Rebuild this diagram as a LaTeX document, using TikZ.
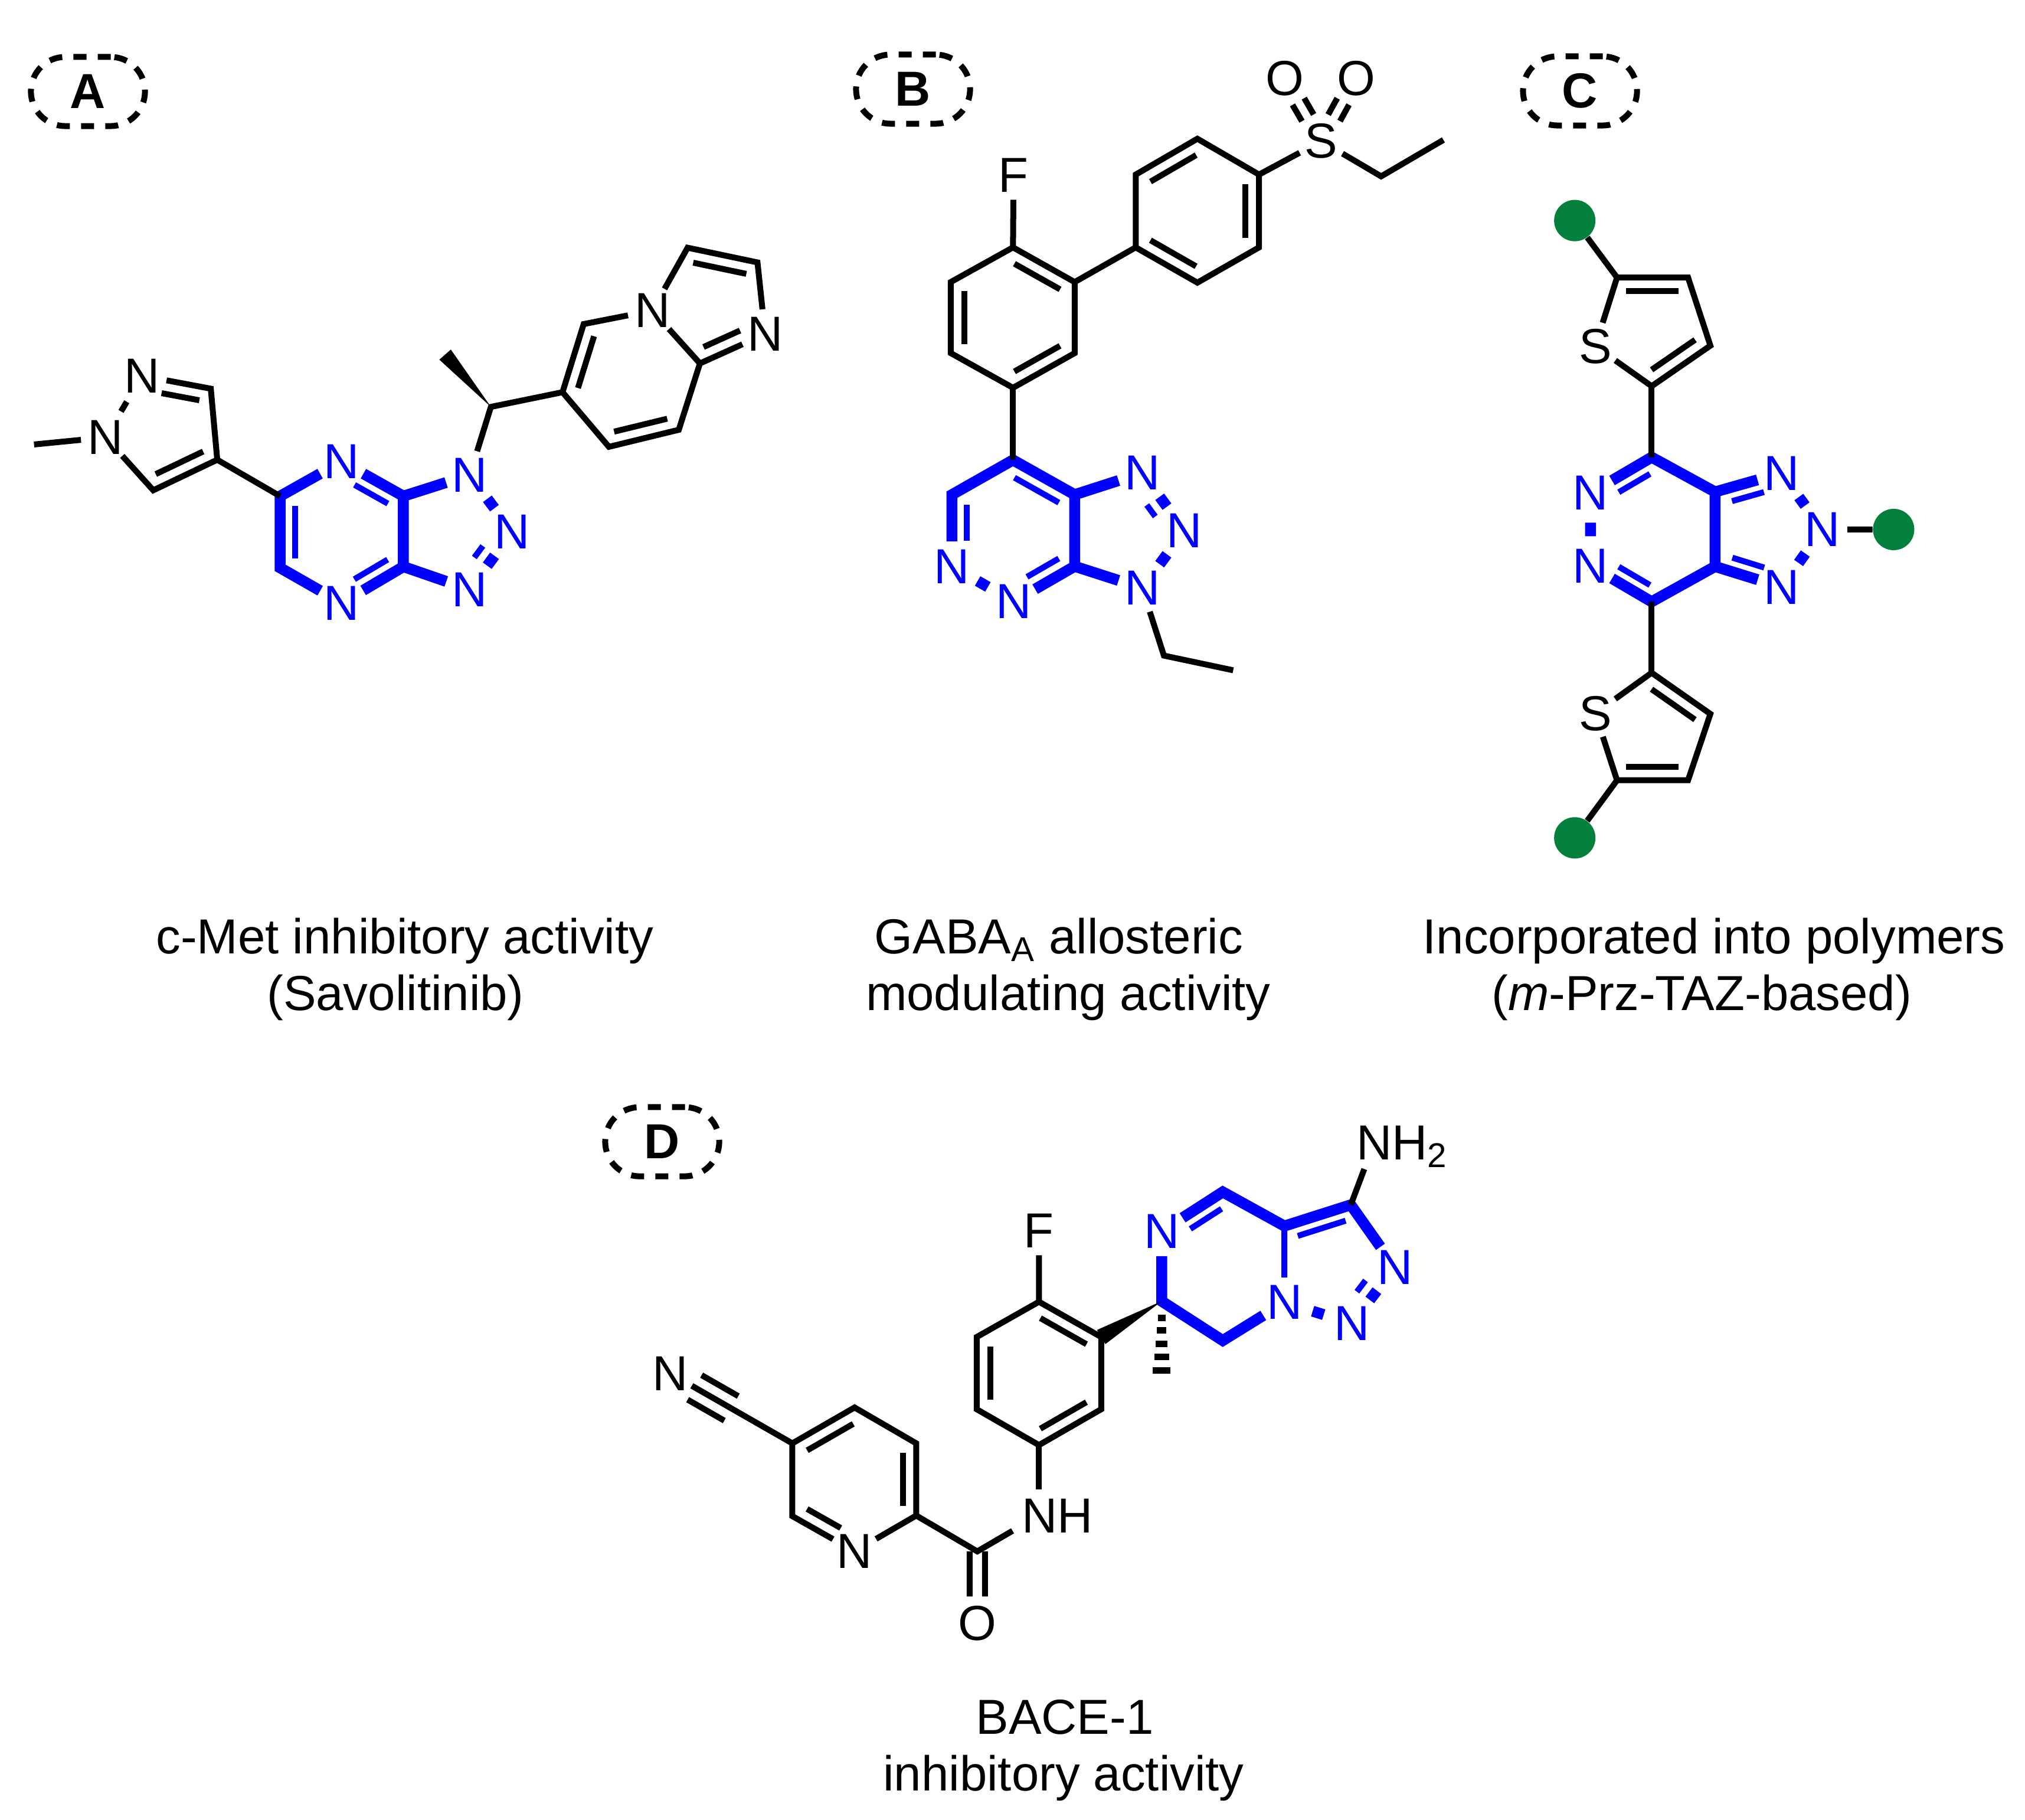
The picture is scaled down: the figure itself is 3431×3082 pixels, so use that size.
\documentclass[tikz,border=0pt]{standalone}
\usepackage{fontspec}
\setmainfont{Liberation Sans}
\usetikzlibrary{calc,shapes.geometric}
\definecolor{hetblue}{RGB}{0,0,255}
\definecolor{dotgreen}{RGB}{2,128,60}
\newcommand{\fs}{\fontsize{23.7}{28}\selectfont}
% inner bond parallel to a-b : a,b,offset,frac a,frac b,style
\newcommand{\inb}[6]{\draw[#6] ($(#1)!#4!(#2)!#3!90:(#2)$) -- ($(#2)!#5!(#1)!#3!-90:(#1)$);}
% wedge from a (narrow) to b (wide)
\newcommand{\wdg}[3]{\fill[black] (#1) -- ($(#2)!#3!90:(#1)$) -- ($(#2)!#3!-90:(#1)$) -- cycle;}
\tikzset{
  atm/.style={circle,inner sep=0pt,minimum size=0.82cm,font=\fs,text=black},
  batm/.style={atm,text=hetblue},
  txt/.style={inner sep=0pt,font=\fs,text=black},
  captxt/.style={txt,anchor=base},
  bk/.style={draw=black,line width=0.1cm,line join=miter,line cap=butt},
  bt/.style={draw=hetblue,line width=0.185cm,line join=miter,line cap=butt},
  bi/.style={draw=hetblue,line width=0.1cm,line cap=butt},
  bstub/.style={bt,shorten >=0.08cm,shorten <=0.08cm},
  kstub/.style={bk,shorten >=0.09cm,shorten <=0.09cm},
  tag/.style={draw=black,dash pattern=on 0.22cm off 0.19cm,line width=0.1cm,rounded corners=0.58cm,minimum width=1.93cm,minimum height=1.17cm,inner sep=0pt,font=\fs\bfseries,text=black},
  dot/.style={circle,fill=dotgreen,inner sep=0pt,minimum size=0.7cm},
}
\begin{document}
\begin{tikzpicture}[x=0.01cm,y=-0.01cm]
\useasboundingbox (0,0) rectangle (3431,3082);
\fill[white] (0,0) rectangle (3431,3082);
% tags
\node[tag] (tA) at (149,155) {A};
\node[tag] (tB) at (1547,151) {B};
\node[tag] (tC) at (2677,154) {C};
\node[tag] (tD) at (1122,1934) {D};
% captions
\node[captxt] (c1a) at (686,1615) {c-Met inhibitory activity};
\node[captxt] (c1b) at (670,1711) {(Savolitinib)};
\node[captxt] (c2a) at (1794,1615) {GABA\textsubscript{A} allosteric};
\node[captxt] (c2b) at (1810,1711) {modulating activity};
\node[captxt] (c3a) at (2904,1615) {Incorporated into polymers};
\node[captxt] (c3b) at (2883,1711) {(\textit{m}-Prz-TAZ-based)};
\node[captxt] (c4a) at (1804,2937) {BACE-1};
\node[captxt] (c4b) at (1802,3033) {inhibitory activity};

%%%%% Molecule A
\begin{scope}[scale around={0.9949:(0,350)}]
\coordinate (aMe) at (58,755);
\node[atm] (aN1) at (180,743) {N};
\node[atm] (aN2) at (242,638) {N};
\coordinate (aC3) at (359,660);
\coordinate (aC4) at (370,781);
\coordinate (aC5) at (261,833);
\coordinate (aC1) at (477,843);
\node[batm] (aN4) at (582,784) {N};
\coordinate (aC2) at (687,843);
\coordinate (aC6) at (687,963);
\node[batm] (aN5) at (582,1025) {N};
\coordinate (aC7) at (477,965);
\node[batm] (aNt) at (800,807) {N};
\node[batm] (aNr) at (872,904) {N};
\node[batm] (aNb) at (800,1002) {N};
\coordinate (aCh) at (836,691);
\coordinate (aWe) at (758,602);
\coordinate (aAr) at (958,666);
\coordinate (aB) at (994,550);
\node[atm] (aN6) at (1111,527) {N};
\coordinate (aF) at (1171,420);
\coordinate (aG) at (1290,445);
\node[atm] (aN7) at (1303,567) {N};
\coordinate (aJ) at (1192,617);
\coordinate (aD) at (1156,730);
\coordinate (aE) at (1037,759);
\draw[bt] (aN5) -- (aC7) -- (aC1) -- (aN4);
\draw[bt] (aN4) -- (aC2) -- (aC6) -- (aN5);
\draw[bt] (aC2) -- (aNt);
\draw[bt] (aC6) -- (aNb);
\draw[bstub] (aNt) -- (aNr);
\draw[bstub] (aNr) -- (aNb);
\inb{aNr}{aNb}{-0.26cm}{.40}{.40}{bi}
\inb{aC1}{aC7}{0.26cm}{.14}{.13}{bi}
\inb{aN4}{aC2}{-0.24cm}{.32}{.14}{bi}
\inb{aC6}{aN5}{-0.24cm}{.14}{.32}{bi}
\draw[bk] (aMe) -- (aN1);
\draw[kstub] (aN1) -- (aN2);
\draw[bk] (aN2) -- (aC3) -- (aC4) -- (aC5) -- (aN1);
\inb{aN2}{aC3}{-0.23cm}{.32}{.13}{bk}
\inb{aC4}{aC5}{-0.23cm}{.13}{.13}{bk}
\draw[bk] (aC4) -- (aC1);
\draw[bk] (aNt) -- (aCh) -- (aAr) -- (aB) -- (aN6) -- (aF) -- (aG) -- (aN7) -- (aJ) -- (aD) -- (aE) -- (aAr);
\draw[bk] (aN6) -- (aJ);
\wdg{aCh}{aWe}{0.13cm}
\inb{aAr}{aB}{-0.23cm}{.12}{.12}{bk}
\inb{aD}{aE}{-0.23cm}{.12}{.12}{bk}
\inb{aF}{aG}{-0.23cm}{.12}{.12}{bk}
\inb{aN7}{aJ}{-0.23cm}{.30}{.14}{bk}
\end{scope}

%%%%% Molecule B
\begin{scope}[scale around={0.9949:(1400,50)}]
\node[atm] (bF) at (1719,298) {F};
\coordinate (b1) at (1718,421);
\coordinate (b2) at (1823,480);
\coordinate (b3) at (1823,601);
\coordinate (b4) at (1718,660);
\coordinate (b5) at (1612,601);
\coordinate (b6) at (1612,480);
\coordinate (c1) at (1927,421);
\coordinate (c2) at (1927,297);
\coordinate (c3) at (2032,236);
\coordinate (c4) at (2137,297);
\coordinate (c5) at (2137,421);
\coordinate (c6) at (2032,481);
\node[atm] (bS) at (2243,240) {S};
\node[atm] (bO1) at (2181,133) {O};
\node[atm] (bO2) at (2302,133) {O};
\coordinate (bE1) at (2345,300);
\coordinate (bE2) at (2451,238);
\coordinate (ca) at (1718,783);
\coordinate (cb) at (1823,842);
\coordinate (cc) at (1823,964);
\node[batm] (bNa) at (1719,1024) {N};
\node[batm] (bNb) at (1614,964) {N};
\coordinate (cd) at (1614,842);
\node[batm] (bNt) at (1938,805) {N};
\node[batm] (bNr) at (2010,903) {N};
\node[batm] (bNu) at (1938,1001) {N};
\coordinate (bE3) at (1975,1116);
\coordinate (bE4) at (2093,1141);
\draw[bt] (bNb) -- (cd) -- (ca) -- (cb) -- (cc) -- (bNa);
\draw[bstub] (bNa) -- (bNb);
\draw[bt] (cb) -- (bNt);
\draw[bt] (cc) -- (bNu);
\draw[bstub] (bNt) -- (bNr);
\draw[bstub] (bNr) -- (bNu);
\inb{bNt}{bNr}{-0.26cm}{.40}{.40}{bi}
\inb{ca}{cb}{-0.25cm}{.14}{.14}{bi}
\inb{cc}{bNa}{-0.25cm}{.14}{.34}{bi}
\inb{bNb}{cd}{-0.25cm}{.36}{.14}{bi}
\draw[bk] (bF) -- (b1);
\draw[bk] (b1) -- (b2) -- (b3) -- (b4) -- (b5) -- (b6) -- cycle;
\draw[bk] (c1) -- (c2) -- (c3) -- (c4) -- (c5) -- (c6) -- cycle;
\inb{b1}{b2}{-0.23cm}{.13}{.13}{bk}
\inb{b3}{b4}{-0.23cm}{.13}{.13}{bk}
\inb{b5}{b6}{-0.23cm}{.13}{.13}{bk}
\inb{c2}{c3}{-0.23cm}{.13}{.13}{bk}
\inb{c4}{c5}{-0.23cm}{.13}{.13}{bk}
\inb{c6}{c1}{-0.23cm}{.13}{.13}{bk}
\draw[bk] (b2) -- (c1);
\draw[bk] (b4) -- (ca);
\draw[bk] (c4) -- (bS) -- (bE1) -- (bE2);
\inb{bS}{bO1}{0.115cm}{.37}{.37}{bk}
\inb{bS}{bO1}{-0.115cm}{.37}{.37}{bk}
\inb{bS}{bO2}{0.115cm}{.37}{.37}{bk}
\inb{bS}{bO2}{-0.115cm}{.37}{.37}{bk}
\draw[bk] (bNu) -- (bE3) -- (bE4);
\end{scope}

%%%%% Molecule C
\begin{scope}[scale around={0.9949:(2500,300)}]
\node[dot] (g1) at (2669,374) {};
\node[dot] (g2) at (3212,900) {};
\node[dot] (g3) at (2669,1425) {};
\coordinate (t5) at (2741,471);
\coordinate (t4) at (2862,471);
\coordinate (t3) at (2900,587);
\coordinate (t2) at (2800,656);
\node[atm] (tS) at (2704,588) {S};
\node[batm] (cNa) at (2696,838) {N};
\node[batm] (cNb) at (2696,962) {N};
\coordinate (k1) at (2800,777);
\coordinate (k2) at (2908,836);
\coordinate (k3) at (2908,963);
\coordinate (k4) at (2800,1023);
\node[batm] (cNt) at (3021,804) {N};
\node[batm] (cNm) at (3091,900) {N};
\node[batm] (cNu) at (3021,998) {N};
\coordinate (u2) at (2800,1144);
\coordinate (u3) at (2900,1214);
\coordinate (u4) at (2862,1327);
\coordinate (u5) at (2741,1327);
\node[atm] (uS) at (2704,1213) {S};
\draw[bt] (cNa) -- (k1) -- (k2) -- (k3) -- (k4) -- (cNb);
\draw[bstub] (cNa) -- (cNb);
\draw[bt] (k2) -- (cNt);
\draw[bt] (k3) -- (cNu);
\draw[bstub] (cNt) -- (cNm);
\draw[bstub] (cNm) -- (cNu);
\inb{cNa}{k1}{-0.23cm}{.35}{.14}{bi}
\inb{k4}{cNb}{-0.23cm}{.14}{.35}{bi}
\inb{k2}{cNt}{-0.23cm}{.20}{.32}{bi}
\inb{k3}{cNu}{0.23cm}{.20}{.32}{bi}
\draw[bk] (g1) -- (t5) -- (t4) -- (t3) -- (t2) -- (tS) -- (t5);
\inb{t5}{t4}{-0.23cm}{.13}{.13}{bk}
\inb{t3}{t2}{-0.23cm}{.13}{.13}{bk}
\draw[bk] (t2) -- (k1);
\draw[bk] (k4) -- (u2);
\draw[bk] (g3) -- (u5) -- (u4) -- (u3) -- (u2) -- (uS) -- (u5);
\inb{u2}{u3}{-0.23cm}{.13}{.13}{bk}
\inb{u4}{u5}{-0.23cm}{.13}{.13}{bk}
\draw[bk] (cNm) -- (g2);
\end{scope}

%%%%% Molecule D
\begin{scope}[scale around={0.9949:(1050,1850)}]
\coordinate (dCam) at (2295,2042);
\coordinate (d2) at (2182,2078);
\coordinate (d3) at (2077,2020);
\node[batm] (dN1) at (1973,2087) {N};
\coordinate (dC) at (1973,2206);
\coordinate (d6) at (2077,2273);
\node[batm] (dN2) at (2182,2208) {N};
\node[batm] (dN3) at (2297,2244) {N};
\node[batm] (dN4) at (2370,2148) {N};
\node[atm] (dF) at (1764,2086) {F};
\node[txt,anchor=base west] (dNH2) at (2304,1965) {NH\textsubscript{2}};
\coordinate (dNH2e) at (2318,1981);
\coordinate (g21) at (1764,2207);
\coordinate (g22) at (1870,2267);
\coordinate (g23) at (1870,2390);
\coordinate (g24) at (1764,2451);
\coordinate (g25) at (1658,2390);
\coordinate (g26) at (1658,2267);
\node[txt,anchor=base west] (dNH) at (1734,2600) {NH};
\coordinate (dNHa) at (1764,2526);
\coordinate (dNHb) at (1719,2597);
\coordinate (dCO) at (1659,2632);
\node[atm] (dO) at (1659,2754) {O};
\coordinate (p1) at (1555,2571);
\coordinate (p2) at (1555,2448);
\coordinate (p3) at (1450,2387);
\coordinate (p4) at (1344,2448);
\coordinate (p5) at (1344,2572);
\node[atm] (pN) at (1450,2632) {N};
\node[atm] (dNc) at (1136,2329) {N};
\coordinate (dMe) at (1973,2328);
\draw[bt] (dN1) -- (d3) -- (d2) -- (dCam) -- (dN4);
\draw[bt] (dN1) -- (dC) -- (d6) -- (dN2);
\draw[bi] (d2) -- (dN2);
\draw[bstub] (dN2) -- (dN3);
\draw[bstub] (dN3) -- (dN4);
\inb{dN3}{dN4}{0.26cm}{.40}{.40}{bi}
\inb{dN1}{d3}{-0.23cm}{.35}{.14}{bi}
\inb{d2}{dCam}{-0.23cm}{.14}{.14}{bi}
\draw[bk] (dCam) -- (dNH2e);
\draw[bk] (dF) -- (g21);
\draw[bk] (g21) -- (g22) -- (g23) -- (g24) -- (g25) -- (g26) -- cycle;
\inb{g21}{g22}{-0.23cm}{.13}{.13}{bk}
\inb{g23}{g24}{-0.23cm}{.13}{.13}{bk}
\inb{g25}{g26}{-0.23cm}{.13}{.13}{bk}
\wdg{dC}{g22}{0.14cm}
\foreach \t/\w in {.23/.065,.41/.08,.60/.10,.78/.125,.97/.15}{
  \draw[draw=black,line width=0.11cm] ($(dC)!\t!(dMe)!\w cm!90:(dMe)$) -- ($(dC)!\t!(dMe)!\w cm!-90:(dMe)$);
}
\draw[bk] (g24) -- (dNHa);
\draw[bk] (dNHb) -- (dCO) -- (p1);
\inb{dCO}{dO}{0.13cm}{0}{.37}{bk}
\inb{dCO}{dO}{-0.13cm}{0}{.37}{bk}
\draw[bk] (p1) -- (p2) -- (p3) -- (p4) -- (p5) -- (pN) -- (p1);
\inb{p1}{p2}{0.23cm}{.13}{.13}{bk}
\inb{p3}{p4}{0.23cm}{.13}{.13}{bk}
\inb{p5}{pN}{0.23cm}{.13}{.33}{bk}
\draw[bk] (p4) -- (dNc);
\inb{p4}{dNc}{0.24cm}{.50}{.20}{bk}
\inb{p4}{dNc}{-0.24cm}{.50}{.20}{bk}
\end{scope}
\end{tikzpicture}
\end{document}
